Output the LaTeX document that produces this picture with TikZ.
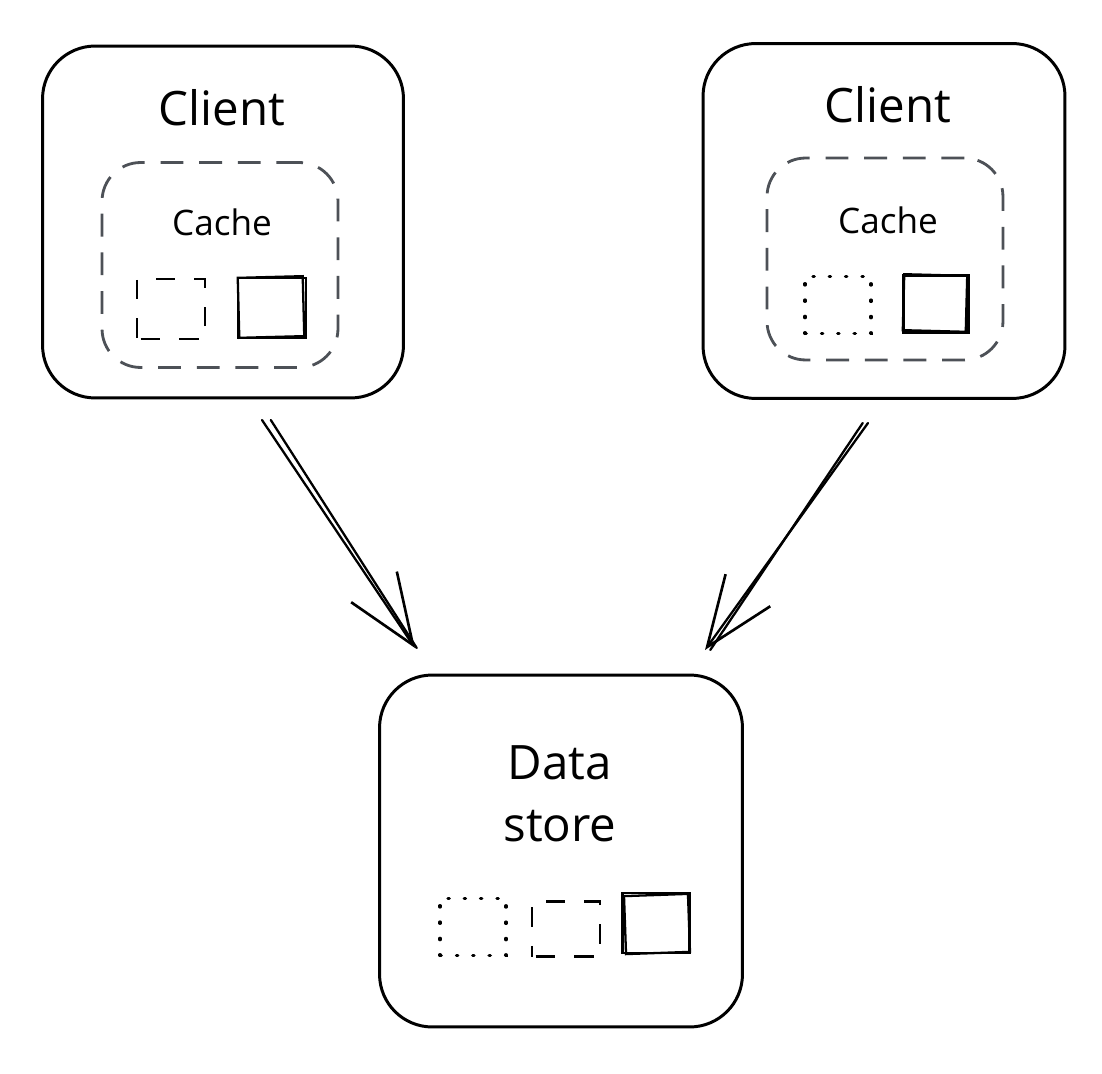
\documentclass[tikz,border=0pt]{standalone}
\usepackage{fontspec}
\setmainfont{Open Sans}
\usetikzlibrary{arrows.meta}
\definecolor{dashgray}{HTML}{4D5157}
\tikzset{
  bigbox/.style={draw=black, line width=1.7pt, rounded corners=30pt, fill=white},
  cachebox/.style={draw=dashgray, line width=1.6pt, rounded corners=22pt, dash pattern=on 13pt off 9pt},
  lblbig/.style={font=\fontsize{27}{32}\selectfont, inner sep=0pt},
  lblsmall/.style={font=\fontsize{20}{24}\selectfont, inner sep=0pt},
  sqsolid/.style={draw=black, line width=1.3pt, minimum width=1.36cm, minimum height=1.2cm, inner sep=0pt},
  sqdashed/.style={draw=black, line width=1.5pt, minimum width=1.36cm, minimum height=1.2cm, inner sep=0pt, dash pattern=on 11pt off 11pt, dash phase=-2pt},
  sqdotted/.style={draw=black, line width=1.8pt, minimum width=1.32cm, minimum height=1.14cm, inner sep=0pt, line cap=round, dash pattern=on 0.8pt off 8.5pt},
  shaft/.style={line width=1.3pt, black, line cap=round},
  arrowtip/.style={line width=1.3pt, black, line cap=round, -{Straight Barb[length=1.4cm, width=1.1cm, line width=1.5pt]}},
}
\begin{document}
\begin{tikzpicture}[x=0.02cm, y=-0.02cm]
\useasboundingbox[fill=white] (0,0) rectangle (1102,1074);

% ---- left client ----
\node[bigbox, minimum width=7.22cm, minimum height=7.04cm] (c1) at (223,222) {};
\node[lblbig] (c1t) at (222,108) {Client};
\node[cachebox, minimum width=4.72cm, minimum height=4.1cm] (k1) at (220,265) {};
\node[lblsmall] (k1t) at (222,222) {Cache};
\node[sqdashed] (k1a) at (171,309) {};
\node[sqsolid] (k1b) at (272,308) {};
\node[sqsolid, rotate=1.5, minimum width=1.3cm] (k1c) at (271,307) {};

% ---- right client ----
\node[bigbox, minimum width=7.24cm, minimum height=7.1cm] (c2) at (884,221) {};
\node[lblbig] (c2t) at (888,105) {Client};
\node[cachebox, minimum width=4.72cm, minimum height=4.04cm] (k2) at (885,259) {};
\node[lblsmall] (k2t) at (888,220) {Cache};
\node[sqdotted] (k2a) at (838,305) {};
\node[sqsolid, minimum width=1.3cm, minimum height=1.14cm] (k2b) at (936,304) {};
\node[sqsolid, rotate=-1.5, minimum width=1.26cm, minimum height=1.12cm] (k2c) at (935,303) {};

% ---- data store ----
\node[bigbox, minimum width=7.26cm, minimum height=7.04cm] (ds) at (561,851) {};
\node[lblbig] (dst1) at (560,763) {Data};
\node[lblbig] (dst2) at (560,826) {store};
\node[sqdotted] (dsa) at (473,927) {};
\node[sqdashed, minimum height=1.1cm] (dsb) at (566,929) {};
\node[sqsolid, minimum width=1.34cm, minimum height=1.2cm] (dsc) at (656,923) {};
\node[sqsolid, rotate=2, minimum width=1.28cm, minimum height=1.16cm] (dsd) at (657,924) {};

% ---- arrows ----
\coordinate (a1s) at (262,420);
\coordinate (a1e) at (415,648);
\coordinate (a2s) at (868,423);
\coordinate (a2e) at (705,650);
\draw[arrowtip] (a1s) -- (a1e);
\draw[shaft] ([xshift=5]a1s) -- ([xshift=1]a1e);
\draw[arrowtip] (a2s) -- (a2e);
\draw[shaft] ([xshift=-3]a2s) -- ([xshift=3]a2e);
\end{tikzpicture}
\end{document}
